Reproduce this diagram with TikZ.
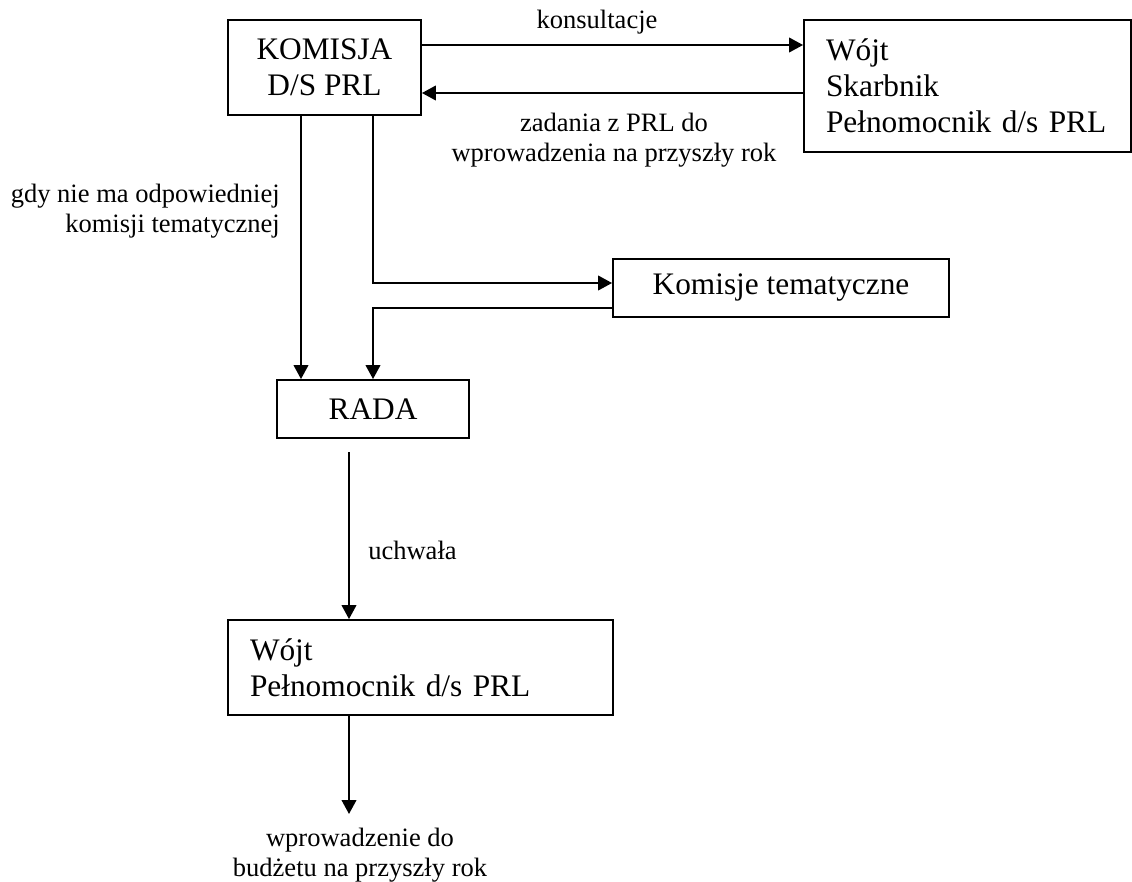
\documentclass[tikz,border=0pt]{standalone}
\usepackage{fontspec}
\setmainfont{Liberation Serif}
\usetikzlibrary{arrows.meta}
\newlength\px \setlength\px{0.75pt}
\begin{document}
\begin{tikzpicture}[x=0.75pt,y=-0.75pt,
  box/.style={draw, line width=1.4pt, inner sep=0pt, font=\fontsize{23.5}{27}\selectfont},
  lbl/.style={font=\fontsize{19.9}{23}\selectfont, inner sep=0pt},
  arr/.style={line width=1.4pt, -{Triangle[length=10.5pt,width=11pt]}}]
\useasboundingbox (0,0) rectangle (1132,882);

\node[box, minimum width=193\px, minimum height=95\px, align=center] (kom) at (324.5,67.5) {KOMISJA\\D/S PRL};
\node[box, minimum width=327\px, minimum height=132\px, text width=283\px, inner xsep=22\px, align=left] (w1) at (967.5,86) {Wójt\\Skarbnik\\Pełnomocnik d/s PRL};
\node[box, minimum width=336\px, minimum height=58\px] (kt) at (781,288) {Komisje tematyczne};
\node[box, minimum width=192\px, minimum height=58\px] (rada) at (373,409) {RADA};
\node[box, minimum width=385\px, minimum height=95\px, text width=341\px, inner xsep=22\px, align=left] (w2) at (420.5,667.5) {Wójt\\Pełnomocnik d/s PRL};

\draw[arr] (kom.east |- 0,45) -- (w1.west |- 0,45);
\draw[arr] (w1.west |- 0,93) -- (kom.east |- 0,93);
\draw[arr] (kom.south -| 301,0) -- (rada.north -| 301,0);
\draw[arr] (kom.south -| 373,0) |- (kt.west |- 0,283);
\draw[arr] (kt.west |- 0,308) -| (rada.north);
\coordinate (s) at (349,452);
\draw[arr] (s) -- (w2.north -| s);
\coordinate (e) at (349,814);
\draw[arr] (w2.south -| e) -- (e);

\node[lbl, anchor=base] (l1) at (597,28) {konsultacje};
\node[lbl, align=center] (l2) at (614,140) {zadania z PRL do\\wprowadzenia na przyszły rok};
\node[lbl, align=right, anchor=east] (l3) at (280,211) {gdy nie ma odpowiedniej\\komisji tematycznej};
\node[lbl, anchor=base west] (l4) at (368,559) {uchwała};
\node[lbl, align=center] (l5) at (360,855) {wprowadzenie do\\budżetu na przyszły rok};
\end{tikzpicture}
\end{document}
